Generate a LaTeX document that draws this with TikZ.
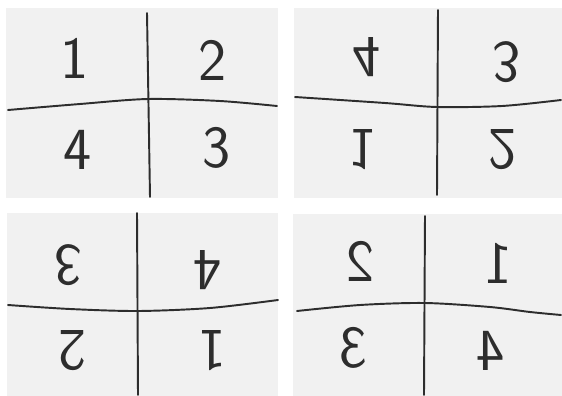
\documentclass[tikz,border=0pt]{standalone}
\usepackage{tikz}
\usepackage{xcolor}
\usetikzlibrary{positioning}
\definecolor{sheetgrey}{RGB}{241, 241, 241}
\definecolor{inkdark}{RGB}{45, 45, 45}
\tikzset{
  sheet/.style={fill=sheetgrey, draw=none},
  pen/.style={draw=inkdark, line width=1.1pt, line cap=round},
  digit/.style={inner sep=0pt, text=inkdark, font=\sffamily\fontsize{34}{34}\selectfont},
}
\begin{document}
\begin{tikzpicture}[x=0.02cm, y=-0.02cm]
  \useasboundingbox (0,0) rectangle (562,396);
  \fill[white] (0,0) rectangle (562,396);

  \fill[sheet] (6,8) rectangle (278,198);
  \draw[pen] (147,13) -- (150,197);
  \draw[pen] plot[smooth] coordinates {(8,110) (80,104) (148,99) (220,101) (277,106)};
  \node[digit] (tlA) at (75,58) {1};
  \node[digit] (tlB) at (213,60) {2};
  \node[digit] (tlD) at (78,150) {4};
  \node[digit] (tlC) at (217,148) {3};

  \fill[sheet] (294,8) rectangle (562,198);
  \draw[pen] (438,10) -- (437,195);
  \draw[pen] plot[smooth] coordinates {(295,97) (385,103) (437,107) (502,106) (561,100)};
  \node[digit, yscale=-1] (trD) at (367,57) {4};
  \node[digit, yscale=-1] (trC) at (507,62) {3};
  \node[digit, yscale=-1] (trA) at (363,150) {1};
  \node[digit, yscale=-1] (trB) at (503,150) {2};

  \fill[sheet] (7,213) rectangle (278,396);
  \draw[pen] (137,213) -- (138,395);
  \draw[pen] plot[smooth] coordinates {(8,305) (70,309) (138,311) (210,308) (278,300)};
  \node[digit, rotate=180] (blC) at (68,265) {3};
  \node[digit, rotate=180] (blD) at (207,270) {4};
  \node[digit, rotate=180] (blB) at (72,351) {2};
  \node[digit, rotate=180] (blA) at (212,351) {1};

  \fill[sheet] (293,214) rectangle (562,396);
  \draw[pen] (425,216) -- (424,395);
  \draw[pen] plot[smooth] coordinates {(297,311) (360,305) (425,303) (490,307) (530,312) (561,315)};
  \node[digit, xscale=-1] (brB) at (360,261) {2};
  \node[digit, xscale=-1] (brA) at (498,263) {1};
  \node[digit, xscale=-1] (brC) at (353,348) {3};
  \node[digit, xscale=-1] (brD) at (490,351) {4};
\end{tikzpicture}
\end{document}
